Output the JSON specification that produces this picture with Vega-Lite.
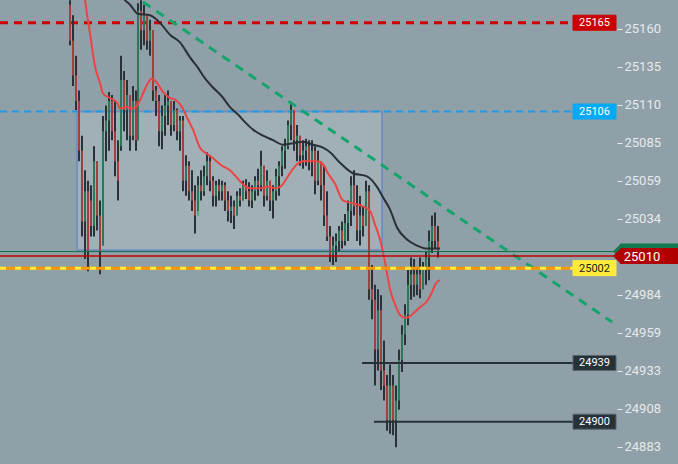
{
  "$schema": "https://vega.github.io/schema/vega-lite/v6.json",
  "width": 616,
  "height": 464,
  "autosize": "none",
  "padding": {"left": 0, "top": 0, "right": 62, "bottom": 0},
  "background": "#8fa0a8",
  "config": {"view": {"stroke": null}},
  "datasets": {
    "candles": [
      {"t":70,"h":25180,"l":25150,"o":25177,"c":25153},
      {"t":73,"h":25170,"l":25123,"o":25153,"c":25130},
      {"t":76,"h":25143,"l":25107,"o":25130,"c":25113},
      {"t":79,"h":25120,"l":25073,"o":25113,"c":25080},
      {"t":82,"h":25090,"l":25023,"o":25080,"c":25033},
      {"t":85,"h":25067,"l":25008,"o":25033,"c":25053},
      {"t":88,"h":25060,"l":25000,"o":25053,"c":25013},
      {"t":91,"h":25057,"l":25023,"o":25047,"c":25030},
      {"t":94,"h":25083,"l":25023,"o":25030,"c":25073},
      {"t":97,"h":25073,"l":25027,"o":25073,"c":25037},
      {"t":100,"h":25047,"l":24998,"o":25037,"c":25013},
      {"t":103,"h":25103,"l":25017,"o":25017,"c":25093},
      {"t":106,"h":25110,"l":25073,"o":25093,"c":25100},
      {"t":109,"h":25119,"l":25080,"o":25100,"c":25113},
      {"t":112,"h":25117,"l":25087,"o":25113,"c":25093},
      {"t":115,"h":25113,"l":25063,"o":25093,"c":25073},
      {"t":118,"h":25087,"l":25047,"o":25073,"c":25060},
      {"t":121,"h":25143,"l":25080,"o":25083,"c":25127},
      {"t":124,"h":25133,"l":25093,"o":25127,"c":25107},
      {"t":127,"h":25127,"l":25087,"o":25107,"c":25117},
      {"t":130,"h":25117,"l":25080,"o":25117,"c":25090},
      {"t":133,"h":25123,"l":25087,"o":25090,"c":25113},
      {"t":136,"h":25120,"l":25080,"o":25113,"c":25087},
      {"t":138,"h":25178,"l":25087,"o":25087,"c":25173},
      {"t":141,"h":25180,"l":25147,"o":25173,"c":25160},
      {"t":144,"h":25177,"l":25150,"o":25160,"c":25170},
      {"t":147,"h":25170,"l":25147,"o":25170,"c":25153},
      {"t":150,"h":25167,"l":25143,"o":25153,"c":25160},
      {"t":153,"h":25160,"l":25113,"o":25160,"c":25120},
      {"t":156,"h":25123,"l":25103,"o":25120,"c":25113},
      {"t":159,"h":25117,"l":25083,"o":25113,"c":25093},
      {"t":162,"h":25110,"l":25081,"o":25093,"c":25103},
      {"t":165,"h":25117,"l":25090,"o":25103,"c":25110},
      {"t":168,"h":25120,"l":25097,"o":25110,"c":25113},
      {"t":171,"h":25113,"l":25090,"o":25113,"c":25097},
      {"t":174,"h":25113,"l":25093,"o":25097,"c":25107},
      {"t":177,"h":25108,"l":25087,"o":25107,"c":25093},
      {"t":180,"h":25103,"l":25080,"o":25093,"c":25100},
      {"t":183,"h":25103,"l":25053,"o":25100,"c":25060},
      {"t":186,"h":25077,"l":25050,"o":25060,"c":25070},
      {"t":189,"h":25073,"l":25047,"o":25070,"c":25053},
      {"t":192,"h":25067,"l":25040,"o":25053,"c":25047},
      {"t":195,"h":25057,"l":25025,"o":25047,"c":25037},
      {"t":198,"h":25063,"l":25040,"o":25037,"c":25057},
      {"t":201,"h":25067,"l":25047,"o":25057,"c":25053},
      {"t":204,"h":25070,"l":25050,"o":25053,"c":25063},
      {"t":207,"h":25079,"l":25057,"o":25063,"c":25073},
      {"t":210,"h":25077,"l":25053,"o":25073,"c":25060},
      {"t":213,"h":25063,"l":25043,"o":25060,"c":25050},
      {"t":216,"h":25060,"l":25043,"o":25050,"c":25057},
      {"t":219,"h":25061,"l":25047,"o":25057,"c":25053},
      {"t":222,"h":25060,"l":25047,"o":25053,"c":25057},
      {"t":225,"h":25059,"l":25040,"o":25057,"c":25047},
      {"t":228,"h":25053,"l":25033,"o":25047,"c":25040},
      {"t":231,"h":25050,"l":25032,"o":25040,"c":25043},
      {"t":234,"h":25047,"l":25028,"o":25043,"c":25037},
      {"t":237,"h":25053,"l":25037,"o":25037,"c":25050},
      {"t":240,"h":25055,"l":25043,"o":25050,"c":25047},
      {"t":243,"h":25060,"l":25047,"o":25047,"c":25057},
      {"t":246,"h":25061,"l":25048,"o":25057,"c":25053},
      {"t":249,"h":25059,"l":25043,"o":25053,"c":25047},
      {"t":252,"h":25057,"l":25042,"o":25047,"c":25053},
      {"t":255,"h":25063,"l":25047,"o":25053,"c":25060},
      {"t":258,"h":25068,"l":25050,"o":25060,"c":25057},
      {"t":261,"h":25080,"l":25053,"o":25057,"c":25070},
      {"t":264,"h":25070,"l":25043,"o":25070,"c":25050},
      {"t":267,"h":25067,"l":25047,"o":25050,"c":25060},
      {"t":270,"h":25060,"l":25040,"o":25060,"c":25047},
      {"t":273,"h":25057,"l":25035,"o":25047,"c":25053},
      {"t":276,"h":25068,"l":25047,"o":25053,"c":25063},
      {"t":279,"h":25073,"l":25050,"o":25063,"c":25070},
      {"t":282,"h":25083,"l":25063,"o":25070,"c":25080},
      {"t":285,"h":25088,"l":25068,"o":25080,"c":25083},
      {"t":288,"h":25100,"l":25081,"o":25083,"c":25097},
      {"t":291,"h":25111,"l":25087,"o":25097,"c":25107},
      {"t":294,"h":25107,"l":25080,"o":25107,"c":25087},
      {"t":297,"h":25097,"l":25073,"o":25087,"c":25090},
      {"t":300,"h":25090,"l":25070,"o":25090,"c":25077},
      {"t":303,"h":25087,"l":25068,"o":25077,"c":25080},
      {"t":306,"h":25088,"l":25070,"o":25080,"c":25083},
      {"t":309,"h":25087,"l":25067,"o":25083,"c":25073},
      {"t":312,"h":25087,"l":25063,"o":25073,"c":25080},
      {"t":315,"h":25083,"l":25051,"o":25080,"c":25060},
      {"t":318,"h":25080,"l":25057,"o":25060,"c":25073},
      {"t":321,"h":25073,"l":25047,"o":25073,"c":25057},
      {"t":324,"h":25070,"l":25030,"o":25057,"c":25037},
      {"t":327,"h":25053,"l":25020,"o":25037,"c":25023},
      {"t":330,"h":25030,"l":25006,"o":25023,"c":25011},
      {"t":333,"h":25023,"l":25004,"o":25011,"c":25017},
      {"t":336,"h":25025,"l":25006,"o":25017,"c":25020},
      {"t":339,"h":25030,"l":25013,"o":25020,"c":25027},
      {"t":342,"h":25033,"l":25015,"o":25027,"c":25020},
      {"t":345,"h":25038,"l":25017,"o":25020,"c":25032},
      {"t":348,"h":25047,"l":25020,"o":25032,"c":25040},
      {"t":351,"h":25063,"l":25030,"o":25040,"c":25057},
      {"t":354,"h":25067,"l":25037,"o":25057,"c":25043},
      {"t":357,"h":25057,"l":25020,"o":25043,"c":25027},
      {"t":360,"h":25050,"l":25017,"o":25027,"c":25037},
      {"t":363,"h":25043,"l":25023,"o":25037,"c":25030},
      {"t":366,"h":25060,"l":25030,"o":25030,"c":25053},
      {"t":369,"h":25057,"l":24981,"o":25053,"c":24988},
      {"t":372,"h":25004,"l":24968,"o":24988,"c":24981},
      {"t":375,"h":24991,"l":24924,"o":24981,"c":24948},
      {"t":378,"h":24988,"l":24934,"o":24948,"c":24974},
      {"t":381,"h":24984,"l":24921,"o":24974,"c":24934},
      {"t":384,"h":24954,"l":24914,"o":24934,"c":24924},
      {"t":387,"h":24931,"l":24894,"o":24924,"c":24901},
      {"t":390,"h":24938,"l":24892,"o":24901,"c":24924},
      {"t":393,"h":24931,"l":24891,"o":24924,"c":24901},
      {"t":396,"h":24924,"l":24883,"o":24901,"c":24914},
      {"t":399,"h":24948,"l":24908,"o":24914,"c":24941},
      {"t":402,"h":24964,"l":24933,"o":24941,"c":24958},
      {"t":405,"h":24978,"l":24951,"o":24958,"c":24971},
      {"t":408,"h":25001,"l":24964,"o":24971,"c":24991},
      {"t":411,"h":25009,"l":24981,"o":24991,"c":24998},
      {"t":414,"h":25008,"l":24983,"o":24998,"c":24991},
      {"t":417,"h":25002,"l":24984,"o":24991,"c":24998},
      {"t":420,"h":25009,"l":24982,"o":24998,"c":24988},
      {"t":423,"h":25006,"l":24988,"o":24988,"c":25001},
      {"t":426,"h":25013,"l":24991,"o":25001,"c":25009},
      {"t":429,"h":25027,"l":24994,"o":25009,"c":25020},
      {"t":432,"h":25037,"l":25012,"o":25020,"c":25030},
      {"t":435,"h":25039,"l":25015,"o":25030,"c":25020},
      {"t":438,"h":25030,"l":25009,"o":25020,"c":25013}
    ],
    "maRed": [
      {"t":83,"p":25190},{"t":85,"p":25180},{"t":90,"p":25158},{"t":95,"p":25136},{"t":100,"p":25125},
      {"t":103,"p":25118},{"t":110,"p":25115},{"t":117,"p":25112},{"t":120,"p":25108},{"t":127,"p":25109},
      {"t":132,"p":25108},{"t":137,"p":25110},{"t":143,"p":25118},{"t":148,"p":25125},{"t":152,"p":25128},
      {"t":157,"p":25125},{"t":163,"p":25119},{"t":170,"p":25115},{"t":175,"p":25114},{"t":182,"p":25109},
      {"t":187,"p":25102},{"t":193,"p":25094},{"t":200,"p":25082},{"t":207,"p":25078},{"t":213,"p":25075},
      {"t":222,"p":25070},{"t":230,"p":25067},{"t":237,"p":25062},{"t":244,"p":25057},{"t":252,"p":25055},
      {"t":260,"p":25055},{"t":268,"p":25056},{"t":276,"p":25055},{"t":282,"p":25057},{"t":287,"p":25062},
      {"t":292,"p":25067},{"t":297,"p":25071},{"t":303,"p":25073},{"t":310,"p":25073},{"t":317,"p":25073},
      {"t":323,"p":25071},{"t":328,"p":25065},{"t":335,"p":25058},{"t":343,"p":25047},{"t":353,"p":25045},
      {"t":363,"p":25043},{"t":370,"p":25040},{"t":375,"p":25031},{"t":380,"p":25021},{"t":385,"p":25006},
      {"t":390,"p":24988},{"t":395,"p":24978},{"t":400,"p":24971},{"t":405,"p":24969},{"t":410,"p":24970},
      {"t":415,"p":24973},{"t":420,"p":24976},{"t":427,"p":24980},{"t":432,"p":24986},{"t":436,"p":24992},
      {"t":440,"p":24994}
    ],
    "maBlack": [
      {"t":118,"p":25187},{"t":125,"p":25180},{"t":130,"p":25177},{"t":138,"p":25171},{"t":150,"p":25170},
      {"t":160,"p":25165},{"t":170,"p":25157},{"t":180,"p":25152},{"t":190,"p":25142},{"t":197,"p":25136},
      {"t":205,"p":25128},{"t":213,"p":25122},{"t":222,"p":25116},{"t":230,"p":25109},{"t":238,"p":25104},
      {"t":245,"p":25099},{"t":253,"p":25094},{"t":263,"p":25090},{"t":273,"p":25087},{"t":283,"p":25084},
      {"t":293,"p":25085},{"t":303,"p":25086},{"t":313,"p":25084},{"t":323,"p":25082},{"t":330,"p":25079},
      {"t":340,"p":25072},{"t":353,"p":25065},{"t":367,"p":25063},{"t":377,"p":25056},{"t":383,"p":25049},
      {"t":390,"p":25041},{"t":397,"p":25029},{"t":407,"p":25021},{"t":417,"p":25017},{"t":427,"p":25015},
      {"t":437,"p":25015},{"t":440,"p":25015}
    ]
  },
  "layer": [
    {
      "data": {"values": [{"t0": 77, "t1": 382, "top": 25106, "bot": 25014}]},
      "mark": {"type": "rect", "fill": "#ffffff", "fillOpacity": 0.17, "stroke": "#5b7bc4", "strokeOpacity": 0.55, "strokeWidth": 2},
      "encoding": {
        "x": {"field": "t0", "type": "quantitative", "scale": {"domain": [0, 616], "nice": false, "zero": false, "padding": 0}, "axis": null},
        "x2": {"field": "t1"},
        "y": {"field": "top", "type": "quantitative", "title": null, "scale": {"domain": [24871.9, 25180.1], "nice": false, "zero": false, "padding": 0},
          "axis": {"orient": "right", "values": [25160.9, 25135.67, 25110.44, 25085.21, 25059.98, 25034.75, 24984.29, 24959.06, 24933.83, 24908.6, 24883.37],
            "labelExpr": "format(floor(datum.value), 'd')", "domain": false, "grid": false, "ticks": true, "tickSize": 5, "tickColor": "#e6eaec",
            "labelColor": "#e6eaec", "labelFont": "Roboto", "labelFontSize": 13, "labelPadding": 2, "title": null, "offset": 1}},
        "y2": {"field": "bot"}
      }
    },
    {
      "data": {"values": [{"p": 25165, "t0": 0, "t1": 573}]},
      "mark": {"type": "rule", "color": "#d00000", "strokeWidth": 3, "strokeDash": [8, 6]},
      "encoding": {"x": {"field": "t0", "type": "quantitative"}, "x2": {"field": "t1"}, "y": {"field": "p", "type": "quantitative", "title": null}}
    },
    {
      "data": {"values": [{"p": 25106, "t0": 0, "t1": 573}]},
      "mark": {"type": "rule", "color": "#1e9be6", "strokeWidth": 2, "strokeDash": [7, 5]},
      "encoding": {"x": {"field": "t0", "type": "quantitative"}, "x2": {"field": "t1"}, "y": {"field": "p", "type": "quantitative", "title": null}}
    },
    {
      "data": {"name": "candles"},
      "mark": {"type": "rule", "color": "#2a3238", "strokeWidth": 2},
      "encoding": {"x": {"field": "t", "type": "quantitative"}, "y": {"field": "l", "type": "quantitative", "title": null}, "y2": {"field": "h"}}
    },
    {
      "data": {"name": "candles"},
      "mark": {"type": "rule", "strokeWidth": 1.3},
      "encoding": {
        "x": {"field": "t", "type": "quantitative"},
        "y": {"field": "o", "type": "quantitative", "title": null},
        "y2": {"field": "c"},
        "color": {"condition": {"test": "datum.c >= datum.o", "value": "#2f9e6b"}, "value": "#e34848"}
      }
    },
    {
      "data": {"name": "maBlack"},
      "mark": {"type": "line", "color": "#2a3035", "strokeWidth": 2, "clip": true, "interpolate": "monotone"},
      "encoding": {"x": {"field": "t", "type": "quantitative"}, "y": {"field": "p", "type": "quantitative", "title": null}}
    },
    {
      "data": {"name": "maRed"},
      "mark": {"type": "line", "color": "#ec4444", "strokeWidth": 2, "clip": true, "interpolate": "monotone"},
      "encoding": {"x": {"field": "t", "type": "quantitative"}, "y": {"field": "p", "type": "quantitative", "title": null}}
    },
    {
      "data": {"values": [{"t0": 143, "t1": 612, "p0": 25178.8, "p1": 24966.2}]},
      "mark": {"type": "rule", "color": "#13a56b", "strokeWidth": 3, "strokeDash": [9, 7]},
      "encoding": {"x": {"field": "t0", "type": "quantitative"}, "x2": {"field": "t1"}, "y": {"field": "p0", "type": "quantitative", "title": null}, "y2": {"field": "p1"}}
    },
    {
      "data": {"values": [{"p": 25013, "t0": 0, "t1": 614}]},
      "mark": {"type": "rule", "color": "#0f6e45", "strokeWidth": 1},
      "encoding": {"x": {"field": "t0", "type": "quantitative"}, "x2": {"field": "t1"}, "y": {"field": "p", "type": "quantitative", "title": null}}
    },
    {
      "data": {"values": [{"p": 25010, "t0": 0, "t1": 614}]},
      "mark": {"type": "rule", "color": "#c40000", "strokeWidth": 1.5},
      "encoding": {"x": {"field": "t0", "type": "quantitative"}, "x2": {"field": "t1"}, "y": {"field": "p", "type": "quantitative", "title": null}}
    },
    {
      "data": {"values": [{"p": 25002, "t0": 0, "t1": 573}]},
      "mark": {"type": "rule", "color": "#ff9800", "strokeWidth": 3},
      "encoding": {"x": {"field": "t0", "type": "quantitative"}, "x2": {"field": "t1"}, "y": {"field": "p", "type": "quantitative", "title": null}}
    },
    {
      "data": {"values": [{"p": 25002, "t0": 0, "t1": 573}]},
      "mark": {"type": "rule", "color": "#ffeb3b", "strokeWidth": 3, "strokeDash": [6, 9]},
      "encoding": {"x": {"field": "t0", "type": "quantitative"}, "x2": {"field": "t1"}, "y": {"field": "p", "type": "quantitative", "title": null}}
    },
    {
      "data": {"values": [{"p": 24939, "t0": 362, "t1": 574}, {"p": 24900, "t0": 374, "t1": 574}]},
      "mark": {"type": "rule", "color": "#263238", "strokeWidth": 2},
      "encoding": {"x": {"field": "t0", "type": "quantitative"}, "x2": {"field": "t1"}, "y": {"field": "p", "type": "quantitative", "title": null}}
    },
    {
      "data": {"values": [
        {"p": 25165, "lab": "25165", "k": "red"},
        {"p": 25106, "lab": "25106", "k": "blue"},
        {"p": 25002, "lab": "25002", "k": "yellow"},
        {"p": 24939, "lab": "24939", "k": "dark"},
        {"p": 24900, "lab": "24900", "k": "dark"}
      ]},
      "layer": [
        {
          "mark": {"type": "bar", "orient": "horizontal", "height": 15, "strokeWidth": 1},
          "encoding": {
            "x": {"datum": 573, "type": "quantitative"},
            "x2": {"datum": 616},
            "y": {"field": "p", "type": "quantitative", "title": null},
            "fill": {"field": "k", "type": "nominal", "scale": {"domain": ["red", "blue", "yellow", "dark", "green", "cur"], "range": ["#cc0000", "#03a9f4", "#ffeb3b", "#263238", "#127a4e", "#b00000"]}, "legend": null},
            "stroke": {"field": "k", "type": "nominal", "scale": {"domain": ["red", "blue", "yellow", "dark", "green", "cur"], "range": ["#cc0000", "#03a9f4", "#ffeb3b", "#56656c", "#127a4e", "#b00000"]}, "legend": null}
          }
        },
        {
          "mark": {"type": "text", "font": "Roboto", "fontSize": 11, "align": "center", "baseline": "middle", "dy": 0.5},
          "encoding": {
            "x": {"datum": 594.5, "type": "quantitative"},
            "y": {"field": "p", "type": "quantitative", "title": null},
            "text": {"field": "lab"},
            "color": {"field": "k", "type": "nominal", "scale": {"domain": ["red", "blue", "yellow", "dark", "cur"], "range": ["#ffffff", "#ffffff", "#222222", "#ffffff", "#ffffff"]}, "legend": null}
          }
        }
      ]
    },
    {
      "data": {"values": [
        {"p": 25013, "k": "green"},
        {"p": 25010, "k": "cur"}
      ]},
      "layer": [
        {
          "mark": {"type": "bar", "orient": "horizontal", "height": 16},
          "encoding": {
            "x": {"datum": 620, "type": "quantitative"},
            "x2": {"datum": 690},
            "y": {"field": "p", "type": "quantitative", "title": null},
            "fill": {"field": "k", "type": "nominal", "legend": null},
            "order": {"field": "p", "sort": "descending"}
          }
        },
        {
          "mark": {"type": "point", "shape": "M-1,0L0,-1L0,1Z", "size": 256, "filled": true, "opacity": 1, "strokeWidth": 0},
          "encoding": {
            "x": {"datum": 621, "type": "quantitative"},
            "y": {"field": "p", "type": "quantitative", "title": null},
            "fill": {"field": "k", "type": "nominal", "legend": null},
            "order": {"field": "p", "sort": "descending"}
          }
        }
      ]
    },
    {
      "data": {"values": [{"p": 25010, "lab": "25010", "k": "cur"}]},
      "mark": {"type": "text", "font": "Roboto", "fontSize": 13, "align": "center", "baseline": "middle", "dy": 0.5},
      "encoding": {
        "x": {"datum": 642, "type": "quantitative"},
        "y": {"field": "p", "type": "quantitative", "title": null},
        "text": {"field": "lab"},
        "color": {"field": "k", "type": "nominal", "legend": null}
      }
    }
  ]
}
